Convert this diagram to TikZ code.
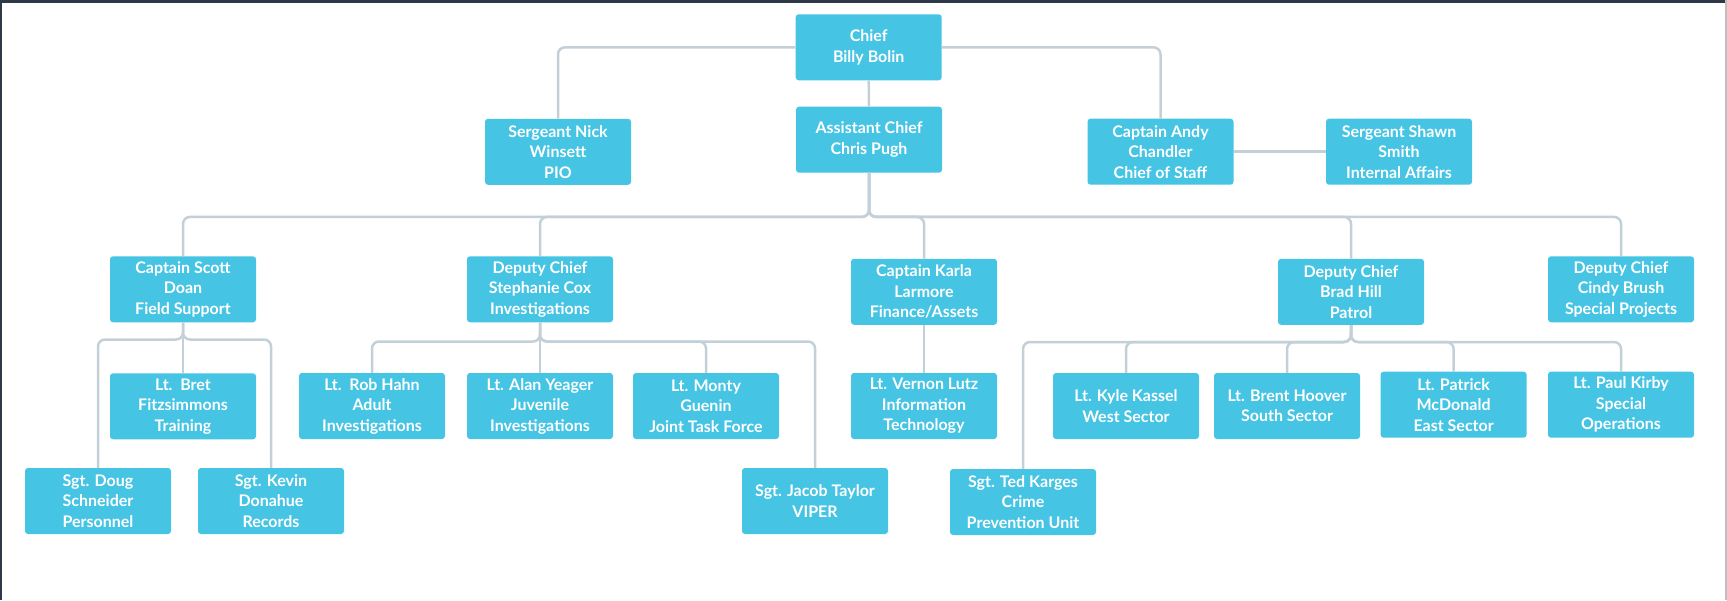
\documentclass[tikz,border=0pt]{standalone}
\usepackage{fontspec}
\setmainfont{Lato}
\usepackage{xcolor}
\definecolor{unitblue}{RGB}{69,196,228}
\definecolor{linkgray}{RGB}{196,208,216}
\definecolor{framenavy}{RGB}{45,56,72}
\tikzstyle{unit} = [rectangle, rounded corners=3pt, minimum width=146pt, minimum height=66pt, inner sep=0pt, align=center, fill=unitblue, text=white, font=\bfseries\fontsize{16}{20.5}\selectfont]

\begin{document}
\begin{tikzpicture}[x=1pt,y=-1pt]
	\tikzset{link/.style={draw=linkgray, line width=2.5pt, rounded corners=7pt}}
	\useasboundingbox (0,0) rectangle (1727,600);
	\draw[framenavy, line width=3pt] (0,1.5) -- (1727,1.5);
	\draw[framenavy, line width=1.5pt] (0.75,0) -- (0.75,600);
	\draw[black!25, line width=1.5pt] (1726,0) -- (1726,600);

	\node[unit] (chief) at (868.7,47.3) {Chief\\Billy Bolin};
	\node[unit] (asst) at (869,139.7) {Assistant Chief\\Chris Pugh};
	\node[unit] (nick) at (558,151.8) {Sergeant Nick\\Winsett\\PIO};
	\node[unit] (andy) at (1160.5,151.7) {Captain Andy\\Chandler\\Chief of Staff};
	\node[unit] (shawn) at (1399,151.7) {Sergeant Shawn\\Smith\\Internal Affairs};

	\node[unit] (scott) at (183,289.3) {Captain Scott\\Doan\\Field Support};
	\node[unit] (cox) at (540,289.3) {Deputy Chief\\Stephanie Cox\\Investigations};
	\node[unit] (karla) at (924,291.8) {Captain Karla\\Larmore\\Finance/Assets};
	\node[unit] (hill) at (1351,291.8) {Deputy Chief\\Brad Hill\\Patrol};
	\node[unit] (brush) at (1621,289.3) {Deputy Chief\\Cindy Brush\\Special Projects};

	\node[unit] (bret) at (183,406.3) {Lt.\ \ Bret\\Fitzsimmons\\Training};
	\node[unit] (rob) at (372,406) {Lt.\ \ Rob Hahn\\Adult\\Investigations};
	\node[unit] (alan) at (540,406) {Lt. Alan Yeager\\Juvenile\\Investigations};
	\node[unit] (monty) at (706,406) {Lt. Monty\\Guenin\\Joint Task Force};
	\node[unit] (vernon) at (924,406) {Lt. Vernon Lutz\\Information\\Technology};
	\node[unit] (kyle) at (1126,406) {Lt. Kyle Kassel\\West Sector};
	\node[unit] (hoover) at (1287,406) {Lt. Brent Hoover\\South Sector};
	\node[unit] (patrick) at (1453.6,404.7) {Lt. Patrick\\McDonald\\East Sector};
	\node[unit] (kirby) at (1621,404.7) {Lt. Paul Kirby\\Special\\Operations};

	\node[unit] (doug) at (98,501) {Sgt. Doug\\Schneider\\Personnel};
	\node[unit] (kevin) at (271,501) {Sgt. Kevin\\Donahue\\Records};
	\node[unit] (jacob) at (815,501) {Sgt. Jacob Taylor\\VIPER};
	\node[unit] (ted) at (1023,502) {Sgt. Ted Karges\\Crime\\Prevention Unit};

	\draw[link] (chief.west) -| (nick.north);
	\draw[link] (chief.east) -| (andy.north);
	\draw[link] (chief.south) -- (asst.north);
	\draw[link] (andy.east) -- (shawn.west);
	\foreach \c in {scott,cox,karla,hill,brush}
		\draw[link] (asst.south) -- +(0,44) -| (\c.north);
	\foreach \c in {doug,kevin}
		\draw[link] (scott.south) -- +(0,17) -| (\c.north);
	\draw[link] (scott.south) -- (bret.north);
	\foreach \c in {rob,monty,jacob}
		\draw[link] (cox.south) -- +(0,19) -| (\c.north);
	\draw[link] (cox.south) -- (alan.north);
	\draw[link] (karla.south) -- (vernon.north);
	\foreach \c in {ted,kyle,hoover,patrick,kirby}
		\draw[link] (hill.south) -- +(0,17) -| (\c.north);
\end{tikzpicture}
\end{document}
